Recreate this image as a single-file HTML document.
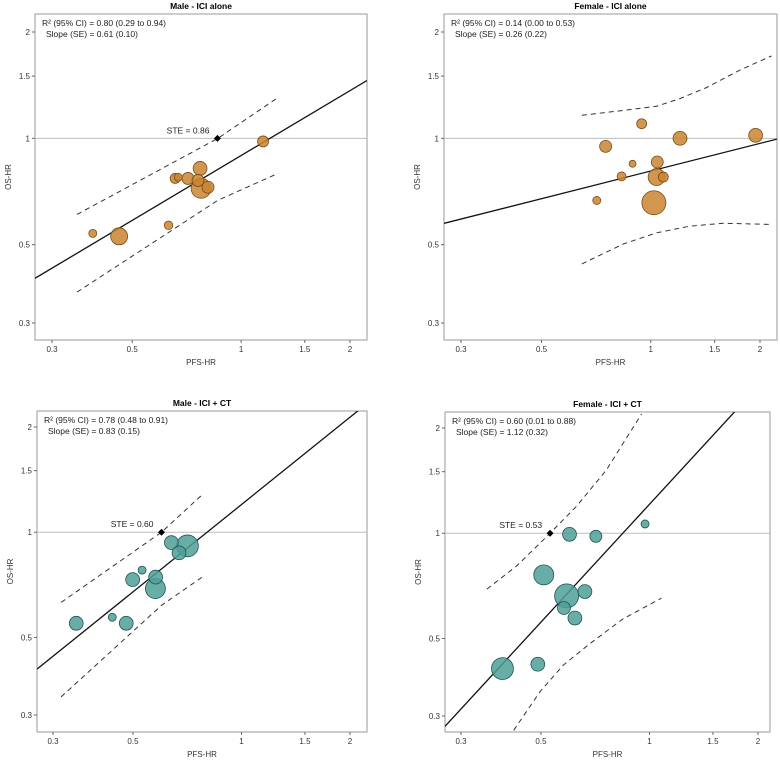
<!DOCTYPE html>
<html><head><meta charset="utf-8"><style>
html,body{margin:0;padding:0;background:#fff;}
svg{display:block;font-family:"Liberation Sans",Arial,sans-serif;}
</style></head><body>
<svg id="chart" width="780" height="762" viewBox="0 0 780 762" xmlns="http://www.w3.org/2000/svg"></svg>
<script>
// ---- Panel 1: Male - ICI alone
const p1PFS = [0.389,0.46,0.63,0.657,0.67,0.713,0.77,0.76,0.775,0.81,1.15];
const p1OS  = [0.538,0.528,0.567,0.77,0.776,0.77,0.822,0.76,0.722,0.727,0.98];
const p1W   = [4,18,4.6,6.2,4,9,12,9,25,9,7.5];
const p1Fit = [0.61,0.894];
const p1BandX = [0.352,0.863,1.266];
const p1BandUp = [0.609,1.0,1.306];
const p1BandLo = [0.367,0.668,0.796];
const p1STE = [0.86,1];
// ---- Panel 2: Female - ICI alone
const p2PFS = [0.71,0.751,0.831,0.891,0.944,1.02,1.038,1.042,1.083,1.204,1.945];
const p2OS  = [0.667,0.949,0.78,0.847,1.10,0.657,0.777,0.857,0.777,1.0,1.02];
const p2W   = [4,9,5,3,6.2,36,18,9,6.2,12,12];
const p2Fit = [0.26,0.808];
const p2BandUpX = [0.646,0.84,1.038,1.204,1.426,1.761,2.153];
const p2BandUp  = [1.162,1.20,1.233,1.296,1.393,1.56,1.711];
const p2BandLoX = [0.646,0.84,1.038,1.28,1.585,2.153];
const p2BandLo  = [0.441,0.502,0.54,0.564,0.575,0.57];
// ---- Panel 3: Male - ICI + CT
const p3PFS = [0.348,0.438,0.479,0.499,0.53,0.578,0.577,0.639,0.671,0.708];
const p3OS  = [0.549,0.571,0.549,0.732,0.779,0.744,0.69,0.934,0.873,0.914];
const p3W   = [12,4,12,12,4,12,25,12,12,30];
const p3Fit = [0.83,1.2];
const p3BandX = [0.316,0.60,0.784];
const p3BandUp = [0.63,1.0,1.29];
const p3BandLo = [0.338,0.618,0.748];
const p3STE = [0.60,1];
// ---- Panel 4: Female - ICI + CT
const p4PFS = [0.391,0.49,0.509,0.589,0.579,0.621,0.662,0.60,0.71,0.972];
const p4OS  = [0.41,0.422,0.76,0.662,0.611,0.572,0.681,0.993,0.98,1.063];
const p4W   = [30,12,25,36,10.5,12,12,12,9,4];
const p4Fit = [1.12,1.21];
const p4BandUpX = [0.354,0.428,0.53,0.627,0.759,0.951];
const p4BandUp  = [0.692,0.806,1.0,1.193,1.516,2.195];
const p4BandLoX = [0.42,0.497,0.576,0.683,0.845,1.079];
const p4BandLo  = [0.273,0.352,0.419,0.483,0.569,0.652];
const p4STE = [0.53,1];

const xTicks = [0.3,0.5,1,1.5,2];
const yTicks = [0.3,0.5,1,1.5,2];
const xTickLabels = ["0.3","0.5","1","1.5","2"];
const yTickLabels = ["0.3","0.5","1","1.5","2"];

const NS="http://www.w3.org/2000/svg";
const svg=document.getElementById('chart');
function mk(tag,attrs,parent){const e=document.createElementNS(NS,tag);for(const k in attrs)e.setAttribute(k,attrs[k]);(parent||svg).appendChild(e);return e;}

const panels=[
 {id:'male-ici-alone',title:'Male - ICI alone',box:[35,14,367,340],xa:[52,350],ya:[32,323],
  pfs:p1PFS,os:p1OS,w:p1W,fit:p1Fit,upX:p1BandX,up:p1BandUp,loX:p1BandX,lo:p1BandLo,ste:p1STE,
  r2:'R² (95% CI) = 0.80 (0.29 to 0.94)',sl:'Slope (SE) = 0.61 (0.10)',fill:'#c98532',stroke:'#7a4a12'},
 {id:'female-ici-alone',title:'Female - ICI alone',box:[444,14,777,340],xa:[461,760],ya:[32,323],
  pfs:p2PFS,os:p2OS,w:p2W,fit:p2Fit,upX:p2BandUpX,up:p2BandUp,loX:p2BandLoX,lo:p2BandLo,ste:null,
  r2:'R² (95% CI) = 0.14 (0.00 to 0.53)',sl:'Slope (SE) = 0.26 (0.22)',fill:'#c98532',stroke:'#7a4a12'},
 {id:'male-ici-ct',title:'Male - ICI + CT',box:[37,411,367,732],xa:[53,350],ya:[427,715],
  pfs:p3PFS,os:p3OS,w:p3W,fit:p3Fit,upX:p3BandX,up:p3BandUp,loX:p3BandX,lo:p3BandLo,ste:p3STE,
  r2:'R² (95% CI) = 0.78 (0.48 to 0.91)',sl:'Slope (SE) = 0.83 (0.15)',fill:'#4f9f98',stroke:'#1f5552'},
 {id:'female-ici-ct',title:'Female - ICI + CT',box:[445,412,770,732],xa:[461,758],ya:[428,716],
  pfs:p4PFS,os:p4OS,w:p4W,fit:p4Fit,upX:p4BandUpX,up:p4BandUp,loX:p4BandLoX,lo:p4BandLo,ste:p4STE,
  r2:'R² (95% CI) = 0.60 (0.01 to 0.88)',sl:'Slope (SE) = 1.12 (0.32)',fill:'#4f9f98',stroke:'#1f5552'}
];

panels.forEach((P,pi)=>{
  const [x0,y0,x1,y1]=P.box;
  const L03=Math.log(0.3),L2=Math.log(2);
  const sx=v=>P.xa[0]+(Math.log(v)-L03)/(L2-L03)*(P.xa[1]-P.xa[0]);
  const sy=v=>P.ya[1]+(Math.log(v)-L03)/(L2-L03)*(P.ya[0]-P.ya[1]);
  const ix=px=>Math.exp(L03+(px-P.xa[0])/(P.xa[1]-P.xa[0])*(L2-L03));
  const g=mk('g',{});
  
  
  const cp=mk('clipPath',{id:'clip'+pi},g);
  mk('rect',{x:x0,y:y0,width:x1-x0,height:y1-y0},cp);
  const t=mk('text',{x:(x0+x1)/2,y:y0-5,'text-anchor':'middle','font-size':'8.5','font-weight':'bold',fill:'#000'},g);
  t.textContent=P.title;
  
  
  const fr=mk('rect',{x:x0,y:y0,width:x1-x0,height:y1-y0,fill:'none',stroke:'#9a9a9a','stroke-width':'1'},g);
  
  
  xTicks.forEach((v,i)=>{
    const x=sx(v);
    mk('line',{x1:x,x2:x,y1:y1,y2:y1+3,stroke:'#666'},g);
    const tt=mk('text',{x:x,y:y1+12,'text-anchor':'middle','font-size':'8',fill:'#333'},g);
    tt.textContent=xTickLabels[i];
    
    
  });
  yTicks.forEach((v,i)=>{
    const y=sy(v);
    mk('line',{x1:x0,x2:x0-3,y1:y,y2:y,stroke:'#666'},g);
    const tt=mk('text',{x:x0-5,y:y+3,'text-anchor':'end','font-size':'8',fill:'#333'},g);
    tt.textContent=yTickLabels[i];
    
    
  });
  const xl=mk('text',{x:(x0+x1)/2,y:y1+25,'text-anchor':'middle','font-size':'8',fill:'#333'},g);
  xl.textContent='PFS-HR';
  
  
  const yc=(y0+y1)/2;
  const yl=mk('text',{x:x0-24,y:yc,'text-anchor':'middle','font-size':'8',fill:'#333',transform:`rotate(-90 ${x0-24} ${yc})`},g);
  yl.textContent='OS-HR';
  
  
  const cg=mk('g',{'clip-path':`url(#clip${pi})`},g);
  const ref=mk('line',{x1:x0,x2:x1,y1:sy(1),y2:sy(1),stroke:'#bdbdbd','stroke-width':'1'},cg);
  
  
  const bandPath=(xs,ys)=>xs.map((v,i)=>(i?'L':'M')+sx(v).toFixed(1)+' '+sy(ys[i]).toFixed(1)).join(' ');
  const bu=mk('path',{d:bandPath(P.upX,P.up),fill:'none',stroke:'#333','stroke-width':'1','stroke-dasharray':'5,4'},cg);
  
  
  const bl=mk('path',{d:bandPath(P.loX,P.lo),fill:'none',stroke:'#333','stroke-width':'1','stroke-dasharray':'5,4'},cg);
  
  
  const fy=v=>P.fit[1]*Math.pow(v,P.fit[0]);
  const xa=ix(x0),xb=ix(x1);
  const fl=mk('line',{x1:sx(xa),y1:sy(fy(xa)),x2:sx(xb),y2:sy(fy(xb)),stroke:'#111','stroke-width':'1.3'},cg);
  
  
  const order=P.w.map((w,i)=>i).sort((a,b)=>P.w[b]-P.w[a]);
  order.forEach(i=>{
    const c=mk('circle',{cx:sx(P.pfs[i]),cy:sy(P.os[i]),r:2*Math.sqrt(P.w[i]),fill:P.fill,'fill-opacity':'0.85',stroke:P.stroke,'stroke-width':'0.8'},cg);
    
    
  });
  if(P.ste){
    const cx=sx(P.ste[0]),cy=sy(P.ste[1]);
    const d=mk('path',{d:`M${cx} ${cy-3.5}L${cx+3.5} ${cy}L${cx} ${cy+3.5}L${cx-3.5} ${cy}Z`,fill:'#000'},g);
    
    
    const st=mk('text',{x:cx-8,y:cy-5,'text-anchor':'end','font-size':'8.5',fill:'#222'},g);
    st.textContent='STE = '+P.ste[0].toFixed(2);
    
    
  }
  const s1=mk('text',{x:x0+7,y:y0+12,'font-size':'8.5',fill:'#222'},g);
  s1.textContent=P.r2;
  
  
  const s2=mk('text',{x:x0+11,y:y0+23,'font-size':'8.5',fill:'#222'},g);
  s2.textContent=P.sl;
  
  
});
</script>
</body></html>
